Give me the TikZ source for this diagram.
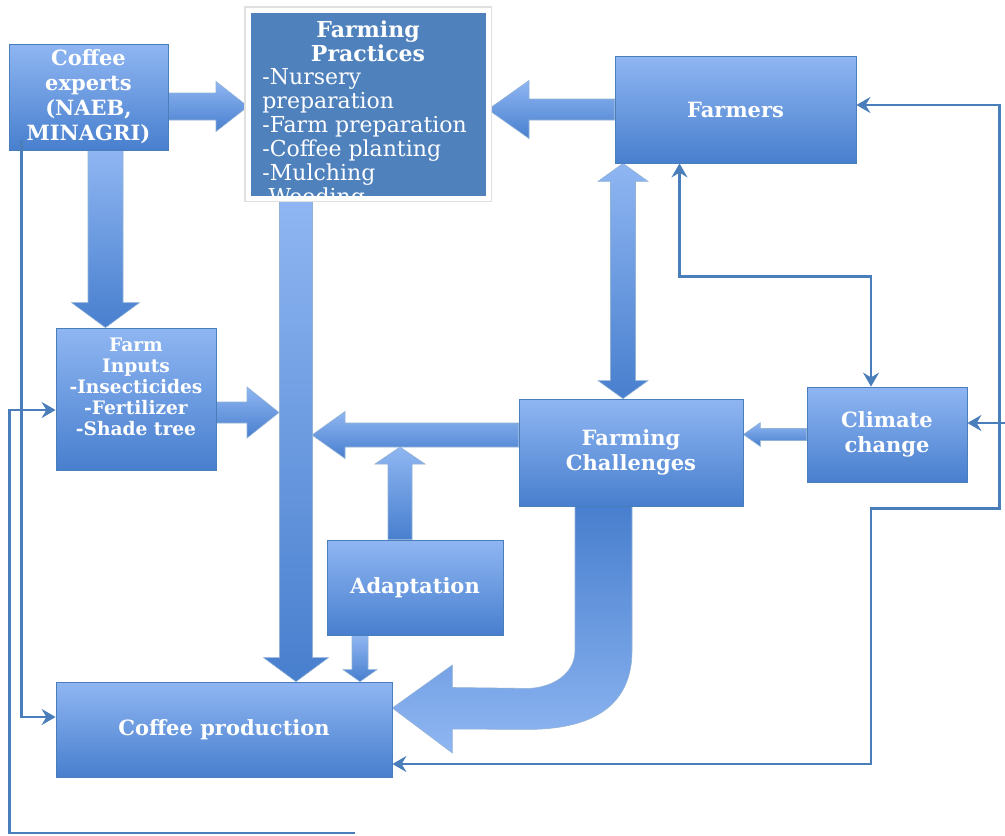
\documentclass[tikz,border=0pt]{standalone}
\usepackage{fontspec}
\setmainfont{DejaVu Serif}
\usetikzlibrary{calc,arrows.meta,backgrounds,shadows}
\definecolor{boxtop}{RGB}{143,182,242}
\definecolor{boxbot}{RGB}{72,127,206}
\definecolor{boxline}{RGB}{74,126,187}
\definecolor{darkbox}{RGB}{79,129,189}
\definecolor{wirecol}{RGB}{74,126,187}

\tikzset{
    box/.style={rectangle, draw=boxline, line width=0.4pt, top color=boxtop, bottom color=boxbot,
        text=white, font=\fontsize{10.5}{12.5}\selectfont\bfseries, align=center, inner sep=0pt},
    practicebox/.style={rectangle, fill=darkbox, draw=white, line width=2.5pt, outer sep=0pt,
        minimum width=120pt, minimum height=94pt,
        preaction={draw=black!12, line width=4pt},
        drop shadow={opacity=0.3, shadow xshift=0.8pt, shadow yshift=-0.8pt}},
    flow/.style={top color=boxtop, bottom color=boxbot, draw=boxline!60, line width=0.3pt},
    flowup/.style={top color=boxbot, bottom color=boxtop, draw=boxline!60, line width=0.3pt},
    wire/.style={draw=wirecol, line width=1.4pt}
}

\newcommand{\blockarrow}[6][]{%
    \path ($(#3)!#6!(#2)$) coordinate (hb);
    \path[#1] ($(#2)!#4!90:(#3)$) -- ($(hb)!#4!90:(#3)$) -- ($(hb)!#5!90:(#3)$) -- (#3)
        -- ($(hb)!#5!-90:(#3)$) -- ($(hb)!#4!-90:(#3)$) -- ($(#2)!#4!-90:(#3)$) -- cycle;}
\newcommand{\dblockarrow}[6][]{%
    \path ($(#3)!#6!(#2)$) coordinate (hb) ($(#2)!#6!(#3)$) coordinate (ha);
    \path[#1] (#2) -- ($(ha)!#5!90:(#3)$) -- ($(ha)!#4!90:(#3)$) -- ($(hb)!#4!90:(#3)$)
        -- ($(hb)!#5!90:(#3)$) -- (#3) -- ($(hb)!#5!-90:(#3)$) -- ($(hb)!#4!-90:(#3)$)
        -- ($(ha)!#4!-90:(#3)$) -- ($(ha)!#5!-90:(#3)$) -- cycle;}

\begin{document}
\begin{tikzpicture}[x=0.5pt, y=-0.5pt, >={Stealth[length=7pt,width=8pt,inset=2.4pt]}]
    \useasboundingbox (0,0) rectangle (1005,835);

    \node[box, minimum width=79.5pt, minimum height=53pt] (experts) at (88.5,97) {Coffee\\experts\\(NAEB,\\MINAGRI)};
    \node[practicebox] (practices) at (368,104) {};
    \node[box, minimum width=120.5pt, minimum height=53.5pt] (farmers) at (735.5,109.5) {Farmers};
    \node[box, minimum width=80pt, minimum height=71pt] (inputs) at (136,399) {};
    \node[box, minimum width=112pt, minimum height=53.5pt] (challenges) at (631,452.5) {Farming\\Challenges};
    \node[box, minimum width=80pt, minimum height=47.5pt] (climate) at (887,434.5) {Climate\\change};
    \node[box, minimum width=88pt, minimum height=47.5pt] (adaptation) at (415,587.5) {Adaptation};
    \node[box, minimum width=168pt, minimum height=47.5pt] (production) at (224,729.5) {Coffee production};

    \node[font=\fontsize{9.3}{10.5}\selectfont\bfseries, text=white, align=center, inner sep=0pt]
        (inputs text) at ($(inputs.center)+(0,-12)$) {Farm\\Inputs\\-Insecticides\\-Fertilizer\\-Shade tree};

    \begin{scope}
        \clip ($(practices.north west)+(3,3)$) rectangle ($(practices.south east)+(-3,-3)$);
        \node[font=\fontsize{11}{12}\selectfont\bfseries, text=white, align=center, inner sep=0pt, anchor=north]
            (practices title) at ($(practices.north)+(0,10)$) {Farming\\Practices};
        \node[font=\fontsize{11}{12}\selectfont, text=white, align=left, inner sep=0pt, anchor=north west]
            (practices list) at ($(practices.north west)+(14,58)$) {-Nursery\\preparation\\-Farm preparation\\-Coffee planting\\-Mulching\\-Weeding};
    \end{scope}

    \begin{pgfonlayer}{background}
        \coordinate (xp1) at ($(experts.east)+(0,9.5)$);
        \coordinate (xi1) at ($(experts.south)+(17,0)$);
        \coordinate (pp1) at ($(practices.south)+(-72,0)$);
        \coordinate (ip1) at ($(inputs.east)+(0,13.5)$);
        \coordinate (ip2) at ($(ip1 -| pp1)+(-17,0)$);
        \coordinate (cp1) at ($(challenges.west)+(0,-17.5)$);
        \coordinate (cp2) at ($(cp1 -| pp1)+(16,0)$);
        \coordinate (ad1) at ($(adaptation.north)+(-15,0)$);
        \coordinate (ad2) at ($(ad1 |- cp1)+(0,12)$);
        \coordinate (ad3) at ($(adaptation.south)+(-55,0)$);
        \coordinate (fm1) at ($(farmers.south)+(-112.5,0)$);
        \coordinate (u0) at ($(challenges.south)+(-56,0)$);
        \coordinate (ut) at ($(production.east)+(0,-21.5)$);

        \blockarrow[flow]{xp1}{xp1 -| practices.west}{6.75pt}{12.5pt}{16pt}
        \blockarrow[flow]{xi1}{xi1 |- inputs.north}{8.75pt}{17pt}{12.5pt}
        \blockarrow[flow]{pp1}{pp1 |- production.north}{8.25pt}{16.25pt}{12pt}
        \blockarrow[flow]{ip1}{ip2}{5.25pt}{12.75pt}{16pt}
        \blockarrow[flow]{cp1}{cp2}{6pt}{11.75pt}{16.5pt}
        \blockarrow[flow]{ad1}{ad2}{6pt}{12.5pt}{8.5pt}
        \blockarrow[flow]{ad3}{ad3 |- production.north}{4pt}{8.5pt}{6pt}
        \blockarrow[flow]{farmers.west}{farmers.west -| practices.east}{5.25pt}{14.5pt}{20.5pt}
        \dblockarrow[flow]{fm1}{fm1 |- challenges.north}{6.25pt}{12.5pt}{9pt}
        \blockarrow[flow]{climate.west}{climate.west -| challenges.east}{3pt}{6pt}{8.5pt}

        \path[flowup] (u0) -- ($(u0)+(0,144)$) .. controls ($(u0)+(0,169)$) and ($(u0)+(-25,182)$) .. ($(u0)+(-48,182)$)
            -- ($(ut)+(60,-20.5)$) -- ($(ut)+(60,-43)$) -- (ut) -- ($(ut)+(60,45)$) -- ($(ut)+(60,21)$)
            -- ($(u0)+(-48,223)$) .. controls ($(u0)+(25,223)$) and ($(u0)+(57,194)$) .. ($(u0)+(57,144)$)
            -- ($(u0)+(57,0)$) -- cycle;
    \end{pgfonlayer}

    \coordinate (xw) at ($(experts.south west)+(13,-10)$);
    \coordinate (cutL) at (355,833);
    \coordinate (fc1) at ($(farmers.south)+(-56,0)$);
    \coordinate (fc2) at ($(climate.north)+(-16,0)$);
    \coordinate (rt) at ($(farmers.east)+(143,-4.5)$);
    \coordinate (cutR) at ($(climate.east)+(40,-11.5)$);

    \draw[wire,->] (xw) |- ($(production.west)+(0,-12.5)$);
    \draw[wire,->] (cutL) -| ($(inputs.west)+(-46,11)$) -- ($(inputs.west)+(0,11)$);
    \draw[wire,<->] (fc1) -- ($(fc1)+(0,113)$) -| (fc2);
    \draw[wire,<->] ($(farmers.east)+(0,-4.5)$) -- (rt) |- ($(climate.south)+(-16,26)$) |- ($(production.east)+(0,34.5)$);
    \draw[wire,->] (cutR) -- (cutR -| climate.east);
\end{tikzpicture}
\end{document}
